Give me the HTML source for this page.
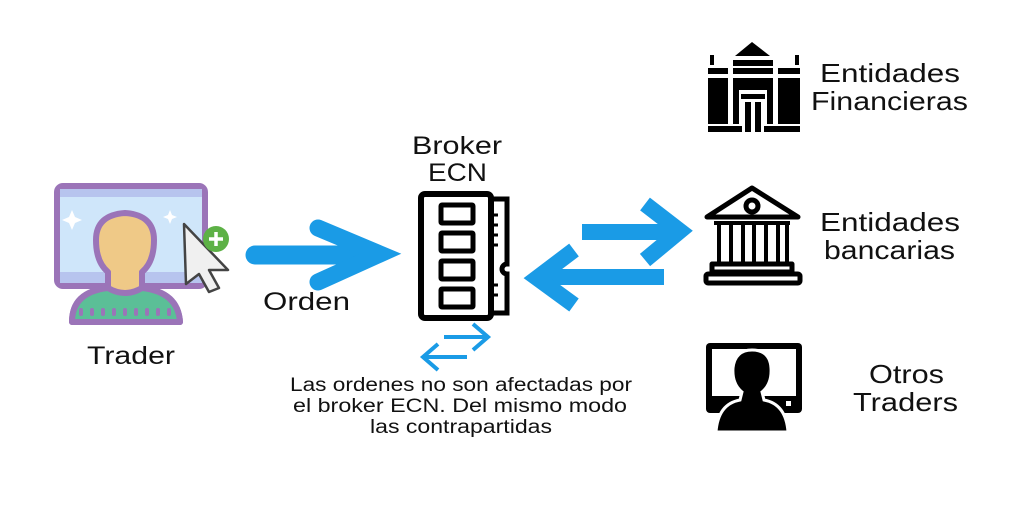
<!DOCTYPE html>
<html><head><meta charset="utf-8"><style>
html,body{margin:0;padding:0;background:#fff;}
svg{display:block;}
text{font-family:"Liberation Sans",sans-serif;fill:#111;}
</style></head><body>
<svg width="1024" height="512" viewBox="0 0 1024 512" xmlns="http://www.w3.org/2000/svg">
<!-- Trader icon -->
<rect x="57" y="186" width="148" height="100" rx="6" fill="#cfe6fa" stroke="#9b74b8" stroke-width="6"/>
<rect x="60" y="189" width="142" height="8" fill="#b7c4ee"/>
<rect x="60" y="272" width="142" height="11" fill="#b7c4ee"/>
<path d="M72 210 l3 7 7 3 -7 3 -3 7 -3 -7 -7 -3 7 -3z" fill="#fff"/>
<path d="M170 210 l2 5 5 2 -5 2 -2 5 -2 -5 -5 -2 5 -2z" fill="#fff"/>
<path d="M72 322 Q72 292 108 288 L108 272 Q96 262 96 240 Q96 215 125 213 Q154 215 154 240 Q154 262 142 272 L142 288 Q178 292 180 322 Z" fill="#efc987" stroke="#9b74b8" stroke-width="6" stroke-linejoin="round"/>
<path d="M72 322 Q72 292 108 288 Q125 298 142 288 Q178 292 180 322 Z" fill="#5bbf97" stroke="#9b74b8" stroke-width="6" stroke-linejoin="round"/>
<g stroke="#9b74b8" stroke-width="4" stroke-linecap="round">
<line x1="81" y1="310" x2="81" y2="314"/><line x1="92" y1="310" x2="92" y2="314"/><line x1="103" y1="310" x2="103" y2="314"/><line x1="114" y1="310" x2="114" y2="314"/><line x1="125" y1="310" x2="125" y2="314"/><line x1="136" y1="310" x2="136" y2="314"/><line x1="147" y1="310" x2="147" y2="314"/><line x1="158" y1="310" x2="158" y2="314"/><line x1="169" y1="310" x2="169" y2="314"/></g>
<path d="M184 224 L228 270 L209 270 L219 288 L209 292 L199 274 L186 284 Z" fill="#f0f0f0" stroke="#444" stroke-width="2.5" stroke-linejoin="round"/>
<circle cx="216" cy="239" r="13" fill="#5db146"/>
<path d="M216 232v14M209 239h14" stroke="#fff" stroke-width="3.5"/>
<text x="87" y="364" font-size="25" textLength="88" lengthAdjust="spacingAndGlyphs">Trader</text>
<!-- Orden arrow -->
<g stroke="#1a9be6" stroke-linecap="round" fill="none">
<line x1="255" y1="255" x2="370" y2="255" stroke-width="19"/>
<polyline points="318,228 380,254 318,282" stroke-width="17" stroke-linejoin="miter"/>
</g>
<text x="263" y="310" font-size="25" textLength="87" lengthAdjust="spacingAndGlyphs">Orden</text>
<!-- Broker -->
<text x="412" y="154" font-size="25" textLength="90" lengthAdjust="spacingAndGlyphs">Broker</text>
<text x="428" y="181" font-size="25" textLength="59" lengthAdjust="spacingAndGlyphs">ECN</text>
<rect x="421" y="194" width="70" height="124" rx="4" fill="none" stroke="#000" stroke-width="6"/>
<path d="M491 199 H507 V264 A5 5 0 0 0 507 274 V313 H491" fill="none" stroke="#000" stroke-width="5"/>
<g stroke="#000" stroke-width="3"><line x1="491" y1="215" x2="498" y2="215"/><line x1="491" y1="225" x2="498" y2="225"/><line x1="491" y1="235" x2="498" y2="235"/><line x1="491" y1="245" x2="498" y2="245"/><line x1="491" y1="285" x2="498" y2="285"/><line x1="491" y1="295" x2="498" y2="295"/></g>
<g fill="none" stroke="#000" stroke-width="5">
<rect x="441" y="205" width="32" height="18" rx="1"/><rect x="441" y="233" width="32" height="18" rx="1"/><rect x="441" y="261" width="32" height="18" rx="1"/><rect x="441" y="289" width="32" height="18" rx="1"/></g>
<!-- small arrows -->
<g stroke="#1a9be6" stroke-width="4" fill="none">
<line x1="444" y1="337" x2="487" y2="337"/><polyline points="473,324 488,337 473,350"/>
<line x1="424" y1="357" x2="467" y2="357"/><polyline points="438,344 423,357 438,370"/></g>
<g font-size="19">
<text x="290" y="391" textLength="342" lengthAdjust="spacingAndGlyphs">Las ordenes no son afectadas por</text>
<text x="293" y="412" textLength="334" lengthAdjust="spacingAndGlyphs">el broker ECN. Del mismo modo</text>
<text x="370" y="433" textLength="182" lengthAdjust="spacingAndGlyphs">las contrapartidas</text></g>
<!-- right arrows -->
<g stroke="#1a9be6" fill="none">
<line x1="582" y1="232" x2="670" y2="232" stroke-width="16"/>
<polyline points="645,204 680,231 645,260" stroke-width="16"/>
<line x1="664" y1="277" x2="550" y2="277" stroke-width="16"/>
<polyline points="574,250 537,278 574,305" stroke-width="16"/>
</g>
<!-- Financial building -->
<g fill="#000">
<path d="M752 42 L735 56 H770 Z"/>
<rect x="733" y="60" width="40" height="6"/>
<rect x="710" y="55" width="4" height="10"/><rect x="795" y="55" width="4" height="10"/>
<rect x="708" y="68" width="20" height="6"/><rect x="733" y="68" width="40" height="6"/><rect x="778" y="68" width="22" height="6"/>
<rect x="708" y="78" width="20" height="46"/><rect x="778" y="78" width="22" height="46"/>
<rect x="733" y="78" width="40" height="12"/>
<rect x="733" y="90" width="6" height="34"/><rect x="767" y="90" width="6" height="34"/>
<rect x="741" y="94" width="24" height="5"/>
<rect x="745" y="102" width="6" height="30"/><rect x="755" y="102" width="6" height="30"/>
<rect x="708" y="126" width="34" height="6"/><rect x="764" y="126" width="36" height="6"/>
</g>
<g font-size="26">
<text x="820" y="82" textLength="140" lengthAdjust="spacingAndGlyphs">Entidades</text>
<text x="811" y="110" textLength="157" lengthAdjust="spacingAndGlyphs">Financieras</text>
<text x="820" y="231" textLength="140" lengthAdjust="spacingAndGlyphs">Entidades</text>
<text x="824" y="259" textLength="131" lengthAdjust="spacingAndGlyphs">bancarias</text>
<text x="869" y="383" textLength="75" lengthAdjust="spacingAndGlyphs">Otros</text>
<text x="853" y="411" textLength="105" lengthAdjust="spacingAndGlyphs">Traders</text>
</g>
<!-- Bank -->
<g fill="none" stroke="#000" stroke-width="5" stroke-linejoin="round">
<path d="M707 217 L752 188 L798 217 Z"/>
<circle cx="752" cy="206" r="6"/>
<rect x="712" y="264" width="80" height="8"/>
<rect x="706" y="274" width="94" height="9" rx="2"/>
</g>
<g fill="#000"><rect x="714" y="221" width="76" height="4"/>
<rect x="717" y="225" width="4" height="39"/><rect x="729" y="225" width="4" height="39"/><rect x="741" y="225" width="4" height="39"/><rect x="752" y="225" width="4" height="39"/><rect x="764" y="225" width="4" height="39"/><rect x="776" y="225" width="4" height="39"/><rect x="785" y="225" width="4" height="39"/></g>
<!-- Otros traders -->
<rect x="706" y="343" width="96" height="70" rx="4" fill="#000"/>
<rect x="712" y="349" width="84" height="47" fill="#fff"/>
<rect x="786" y="401" width="5" height="5" fill="#fff"/>
<path d="M716 432 Q718 404 740 400 L742 392 Q732 384 733 368 Q735 350 752 350 Q770 350 771 368 Q772 384 762 392 L764 400 Q786 404 788 432 Z" fill="#000" stroke="#fff" stroke-width="3"/>
</svg>
</body></html>
